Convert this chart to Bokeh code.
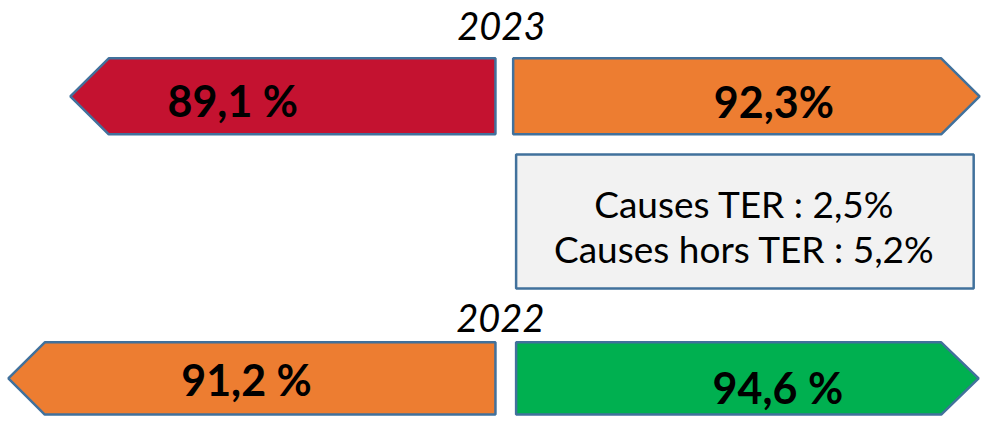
from bokeh.plotting import figure
from bokeh.models import Range1d
from bokeh.core.properties import value
from bokeh.embed import file_html
from bokeh.resources import INLINE

# ---- data ----
years = ["2023", "2022"]
left_values = [89.1, 91.2]
right_values = [92.3, 94.6]
left_labels = ["89,1 %", "91,2 %"]
right_labels = ["92,3%", "94,6 %"]
left_colors = ["#C41230", "#ED7D31"]
right_colors = ["#ED7D31", "#00B050"]
note_lines = ["Causes TER : 2,5%", "Causes hors TER : 5,2%"]

# ---- layout (reference pixel coordinates, y down) ----
rows = [
    dict(top=60, bot=139, l_tip=71, l_sh=110, l_right=503, r_left=521, r_sh=956, r_tip=995, year_y=26,
         l_lab_x=236, r_lab_x=786, l_lab_y=104, r_lab_y=105),
    dict(top=355, bot=430, l_tip=8, l_sh=45, l_right=503, r_left=524, r_sh=956, r_tip=994, year_y=330,
         l_lab_x=250, r_lab_x=790, l_lab_y=394, r_lab_y=402),
]
border = "#41719C"

p = figure(width=984, height=416, output_backend="svg", toolbar_location=None,
           x_range=Range1d(0, 1000), y_range=Range1d(432, 0), min_border=0)
p.axis.visible = False
p.grid.visible = False
p.outline_line_color = None
p.background_fill_color = "white"

xs, ys, fills = [], [], []
for i, r in enumerate(rows):
    mid = (r["top"] + r["bot"]) / 2
    xs.append([r["l_tip"], r["l_sh"], r["l_right"], r["l_right"], r["l_sh"]])
    ys.append([mid, r["top"], r["top"], r["bot"], r["bot"]])
    fills.append(left_colors[i])
    xs.append([r["r_left"], r["r_sh"], r["r_tip"], r["r_sh"], r["r_left"]])
    ys.append([r["top"], r["top"], mid, r["bot"], r["bot"]])
    fills.append(right_colors[i])

p.patches(xs=xs, ys=ys, fill_color=fills, line_color=border, line_width=2.5)

# note box
p.quad(left=[524], right=[989], top=[160], bottom=[299], fill_color="#F2F2F2",
       line_color=border, line_width=2.5)
p.text(x=[756, 756], y=[211, 258], text=note_lines, text_align="center",
       text_baseline="middle", text_font=value("Lato"), text_font_size="37px",
       text_color="black")

# year titles
p.text(x=[509, 508], y=[r["year_y"] for r in rows], text=years, text_align="center",
       text_baseline="middle", text_font=value("Lato"), text_font_style="italic",
       text_font_size="38px", text_color="black")

# value labels
lab_x = [r["l_lab_x"] for r in rows] + [r["r_lab_x"] for r in rows]
lab_y = [r["l_lab_y"] for r in rows] + [r["r_lab_y"] for r in rows]
labs = left_labels + right_labels
p.text(x=lab_x, y=lab_y, text=labs, text_align="center", text_baseline="middle",
       text_font=value("Lato"), text_font_style="bold", text_font_size="43px",
       text_color="black")

open("out.html", "w").write(file_html(p, INLINE))
